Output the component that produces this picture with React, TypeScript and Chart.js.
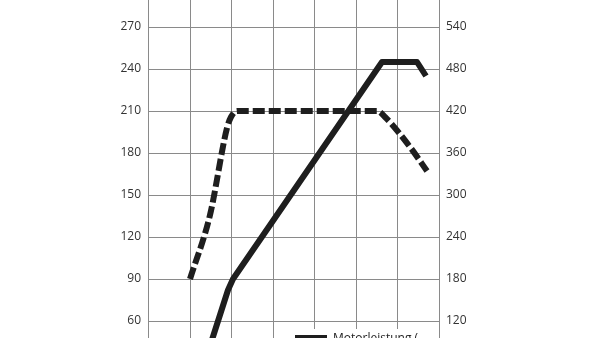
import React, { useEffect, useRef } from "react";
import { Chart, registerables } from "chart.js";

Chart.register(...registerables);

// Engine speed (rpm) and values
const powerRpm = [1500, 1925, 2050, 5630, 6470, 6680];
const powerKw = [42, 82, 90, 245, 245, 235];

const torqueRpm = [1000, 1500, 1900, 2000, 2150, 5500, 5700, 6300, 6700];
const torqueNm = [180, 272, 396, 412, 420, 420, 412, 368, 334];

const legendLines = [
  ["Motorleistung (", "kW)"],
  ["Drehmoment (", "Nm)"],
];

const leftTickStep = 30;
const rightTickStep = 60;

const FONT = "'Open Sans', 'DejaVu Sans', sans-serif";

const legendPlugin = {
  id: "cropLegend",
  afterDatasetsDraw(chart: any) {
    const { ctx, chartArea } = chart;
    ctx.save();
    ctx.fillStyle = "#ffffff";
    const boxLeft = chartArea.left + 137;
    const boxTop = chartArea.top + 344;
    ctx.fillRect(boxLeft, boxTop, chartArea.right - 1 - boxLeft, chartArea.bottom - boxTop);
    chart.data.datasets.forEach((ds: any, i: number) => {
      const y = boxTop + 9 + i * 34;
      ctx.strokeStyle = ds.borderColor;
      ctx.lineWidth = 6;
      ctx.setLineDash(ds.borderDash || []);
      ctx.beginPath();
      ctx.moveTo(boxLeft + 10, y);
      ctx.lineTo(boxLeft + 42, y);
      ctx.stroke();
      ctx.setLineDash([]);
      ctx.fillStyle = "#222";
      ctx.font = `12px ${FONT}`;
      ctx.textAlign = "left";
      ctx.textBaseline = "alphabetic";
      legendLines[i].forEach((t, j) => {
        ctx.fillText(t, boxLeft + 48, y + 4 + j * 15);
      });
    });
    ctx.restore();
  },
};

export default function App() {
  const ref = useRef<HTMLCanvasElement | null>(null);

  useEffect(() => {
    if (!ref.current) return;
    const chart = new Chart(ref.current, {
      type: "line",
      data: {
        datasets: [
          {
            label: "Motorleistung (kW)",
            data: powerRpm.map((x, i) => ({ x, y: powerKw[i] })),
            yAxisID: "y",
            borderColor: "#1e1e1e",
            borderWidth: 6,
            pointRadius: 0,
            tension: 0,
            borderJoinStyle: "round",
            fill: false,
          },
          {
            label: "Drehmoment (Nm)",
            data: torqueRpm.map((x, i) => ({ x, y: torqueNm[i] })),
            yAxisID: "y1",
            borderColor: "#1e1e1e",
            borderWidth: 6,
            borderDash: [12, 4],
            pointRadius: 0,
            cubicInterpolationMode: "monotone",
            borderJoinStyle: "round",
            fill: false,
          },
        ],
      },
      options: {
        animation: false,
        responsive: false,
        devicePixelRatio: 1,
        layout: { padding: { top: 5, bottom: 5, left: 0, right: 0 } },
        plugins: {
          legend: { display: false },
          tooltip: { enabled: false },
        },
        scales: {
          x: {
            type: "linear",
            min: 0,
            max: 7000,
            alignToPixels: true,
            ticks: { display: false, stepSize: 1000 },
            grid: { color: "#8a8a8a", lineWidth: 1, drawTicks: false },
            border: { display: false },
            afterFit: (s: any) => {
              s.height = 0;
              s.paddingLeft = 0;
              s.paddingRight = 0;
            },
          },
          y: {
            position: "left",
            min: 0,
            max: 300,
            alignToPixels: true,
            ticks: {
              stepSize: leftTickStep,
              padding: 7,
              color: "#333",
              font: { family: FONT, size: 12 },
            },
            grid: { color: "#8a8a8a", lineWidth: 1, drawTicks: false },
            border: { display: false },
            afterFit: (s: any) => {
              s.width = 148;
              s.paddingTop = 0;
              s.paddingBottom = 0;
            },
          },
          y1: {
            position: "right",
            min: 0,
            max: 600,
            alignToPixels: true,
            ticks: {
              stepSize: rightTickStep,
              padding: 7,
              color: "#333",
              font: { family: FONT, size: 12 },
            },
            grid: { drawOnChartArea: false, drawTicks: false },
            border: { display: false },
            afterFit: (s: any) => {
              s.width = 161;
              s.paddingTop = 0;
              s.paddingBottom = 0;
            },
          },
        },
      },
      plugins: [legendPlugin],
    } as any);
    return () => chart.destroy();
  }, []);

  return (
    <div
      style={{
        position: "fixed",
        left: 0,
        top: 0,
        width: 600,
        height: 338,
        overflow: "hidden",
        background: "#fff",
      }}
    >
      <div style={{ position: "absolute", left: 0, top: -20, width: 600, height: 430 }}>
        <canvas ref={ref} width={600} height={430} style={{ display: "block" }} />
      </div>
    </div>
  );
}
